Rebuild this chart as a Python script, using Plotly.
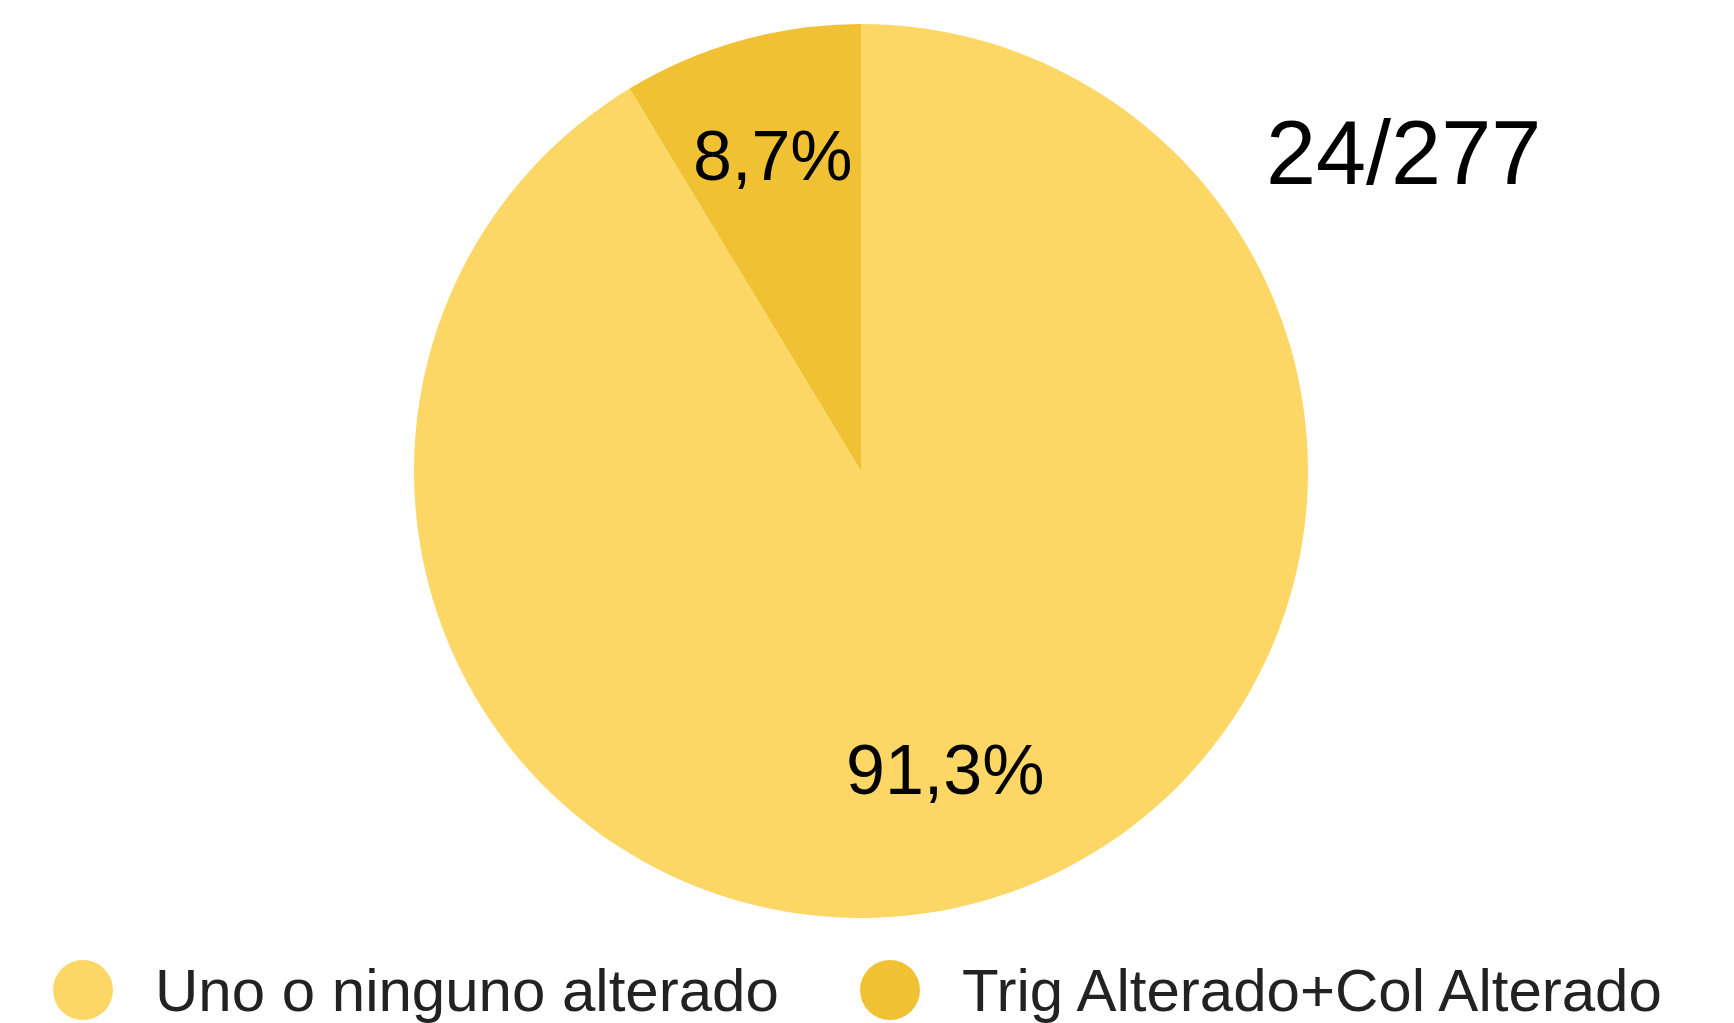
import math
import plotly.graph_objects as go

labels = ["Uno o ninguno alterado", "Trig Alterado+Col Alterado"]
values = [253, 24]
colors = ["#FDD766", "#F0C233"]
count_label = "24/277"

W, H = 1734, 1023
FONT = "Liberation Sans, Arial, sans-serif"

# pie geometry (pixels)
CX, CY, R = 861, 471, 447
label_radius = [0.695, 0.732]  # fraction of radius where slice labels sit

fig = go.Figure()
fig.add_trace(go.Pie(
    labels=labels,
    values=values,
    sort=False,
    direction="clockwise",
    rotation=0,
    marker=dict(colors=colors, line=dict(width=0)),
    textinfo="none",
    hoverinfo="label+percent+value",
    showlegend=False,
    domain=dict(x=[(CX - R) / W, (CX + R) / W], y=[(H - CY - R) / H, (H - CY + R) / H]),
))

# slice percentage labels, placed at each slice's mid-angle
total = sum(values)
start = 0.0
for v, fr in zip(values, label_radius):
    mid = (start + v / 2) / total * 2 * math.pi  # clockwise from 12 o'clock
    start += v
    px = CX + fr * R * math.sin(mid)
    py = CY - fr * R * math.cos(mid)
    txt = f"{100 * v / total:.1f}%".replace(".", ",")
    fig.add_annotation(x=px / W, y=(H - py) / H, xref="paper", yref="paper",
                       text=txt, showarrow=False, xanchor="center", yanchor="middle",
                       font=dict(family=FONT, size=70, color="#000000"))

# custom legend (large circular swatches)
legend_x = [83, 890]
legend_y = 990
r = 30
for lab, col, cx in zip(labels, colors, legend_x):
    fig.add_shape(type="circle", xref="paper", yref="paper",
                  x0=(cx - r) / W, x1=(cx + r) / W,
                  y0=(H - legend_y - r) / H, y1=(H - legend_y + r) / H,
                  fillcolor=col, line=dict(width=0))
    fig.add_annotation(x=(cx + 70) / W, y=(H - legend_y) / H, xref="paper", yref="paper",
                       text=lab, showarrow=False, xanchor="left", yanchor="middle",
                       font=dict(family=FONT, size=60, color="#222222"))

fig.add_annotation(x=1264 / W, y=(H - 153) / H, xref="paper", yref="paper",
                   text=count_label, showarrow=False, xanchor="left", yanchor="middle",
                   font=dict(family=FONT, size=90, color="#000000"))

fig.update_layout(
    width=W, height=H,
    margin=dict(l=0, r=0, t=0, b=0),
    paper_bgcolor="white",
    plot_bgcolor="white",
)

fig.write_html("out.html", config={"displayModeBar": False},
               post_script="document.body.style.margin='0';document.body.style.overflow='hidden';")
